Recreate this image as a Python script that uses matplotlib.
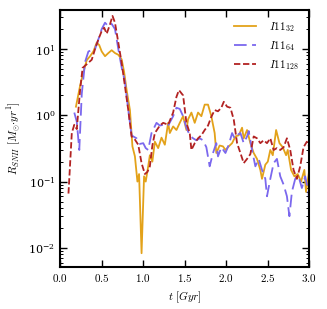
import numpy as np
import matplotlib
matplotlib.use('Agg')
import matplotlib.pyplot as plt
from matplotlib.ticker import FuncFormatter, LogLocator

plt.rcParams['mathtext.fontset'] = 'cm'
plt.rcParams['font.family'] = 'serif'
plt.rcParams['font.serif'] = ['DejaVu Serif']

# I11_32 (solid)
t32 = [0.19, 0.24, 0.28, 0.32, 0.36, 0.40, 0.44, 0.47, 0.50, 0.54, 0.58, 0.62, 0.66, 0.70,
       0.74, 0.77, 0.80, 0.84, 0.87, 0.90, 0.93, 0.95, 0.98, 1.01, 1.03, 1.06, 1.08, 1.11,
       1.14, 1.18, 1.22, 1.26, 1.30, 1.32, 1.36, 1.40, 1.44, 1.48, 1.52, 1.54, 1.58, 1.62,
       1.66, 1.70, 1.74, 1.78, 1.82, 1.86, 1.88, 1.92, 1.96, 1.99, 2.03, 2.07, 2.11, 2.15,
       2.19, 2.21, 2.25, 2.29, 2.33, 2.37, 2.41, 2.43, 2.47, 2.50, 2.53, 2.56, 2.60, 2.64,
       2.68, 2.72, 2.74, 2.78, 2.82, 2.86, 2.90, 2.94, 2.96, 3.00]
r32 = [1.35, 2.8, 4.5, 6.8, 7.8, 9.2, 12.5, 11.5, 9.2, 7.8, 8.7, 9.6, 8.7, 8.2,
       7.0, 4.5, 2.4, 1.2, 0.34, 0.24, 0.10, 0.13, 0.0083, 0.12, 0.10, 0.17, 0.25, 0.20,
       0.40, 0.32, 0.46, 0.36, 0.77, 0.54, 0.68, 0.60, 0.77, 0.97, 0.60, 0.87, 1.1, 0.77,
       1.1, 0.97, 1.45, 1.45, 0.97, 0.54, 0.27, 0.35, 0.34, 0.30, 0.34, 0.38, 0.48, 0.50,
       0.65, 0.45, 0.60, 0.38, 0.27, 0.22, 0.15, 0.11, 0.18, 0.20, 0.30, 0.25, 0.60, 0.38,
       0.33, 0.25, 0.30, 0.15, 0.12, 0.13, 0.10, 0.15, 0.07, 0.15]

# I11_64 (long dash)
t64 = [0.17, 0.20, 0.23, 0.26, 0.30, 0.34, 0.38, 0.42, 0.46, 0.50, 0.54, 0.58, 0.62, 0.66,
       0.70, 0.74, 0.78, 0.82, 0.86, 0.88, 0.92, 0.96, 1.00, 1.03, 1.06, 1.10, 1.16, 1.20,
       1.24, 1.30, 1.36, 1.40, 1.44, 1.48, 1.52, 1.56, 1.60, 1.64, 1.68, 1.72, 1.76, 1.80,
       1.84, 1.88, 1.90, 1.94, 1.99, 2.03, 2.07, 2.10, 2.13, 2.17, 2.21, 2.25, 2.27, 2.31,
       2.35, 2.39, 2.43, 2.47, 2.49, 2.53, 2.57, 2.61, 2.65, 2.69, 2.73, 2.76, 2.79, 2.83,
       2.87, 2.91, 2.95, 2.99, 3.00]
r64 = [1.1, 0.8, 0.3, 2.1, 6.4, 9.2, 9.6, 10.0, 14.0, 20.0, 25.0, 22.0, 24.0, 20.0,
       10.0, 5.3, 3.2, 1.2, 0.50, 0.48, 0.45, 0.37, 0.38, 0.32, 0.30, 0.54, 0.77, 0.70,
       0.72, 0.70, 0.97, 1.3, 1.25, 0.97, 0.65, 0.50, 0.45, 0.42, 0.45, 0.42, 0.33, 0.17,
       0.27, 0.38, 0.24, 0.33, 0.27, 0.36, 0.54, 0.45, 0.50, 0.54, 0.38, 0.48, 0.58, 0.30,
       0.17, 0.22, 0.15, 0.11, 0.06, 0.11, 0.19, 0.22, 0.12, 0.09, 0.06, 0.03, 0.07, 0.11,
       0.12, 0.08, 0.12, 0.07, 0.04]

# I11_128 (dashed)
t128 = [0.10, 0.14, 0.17, 0.20, 0.24, 0.27, 0.32, 0.38, 0.42, 0.46, 0.50, 0.53, 0.56, 0.60,
        0.63, 0.66, 0.70, 0.74, 0.78, 0.82, 0.86, 0.90, 0.94, 0.98, 1.02, 1.05, 1.08, 1.11,
        1.14, 1.20, 1.24, 1.30, 1.36, 1.40, 1.43, 1.48, 1.52, 1.56, 1.58, 1.62, 1.66, 1.70,
        1.74, 1.78, 1.82, 1.86, 1.90, 1.94, 1.97, 2.01, 2.05, 2.09, 2.13, 2.17, 2.21, 2.25,
        2.29, 2.33, 2.37, 2.41, 2.45, 2.49, 2.53, 2.57, 2.61, 2.65, 2.69, 2.73, 2.77, 2.81,
        2.85, 2.89, 2.93, 2.97, 3.00]
r128 = [0.066, 0.54, 0.72, 0.62, 2.4, 5.2, 5.9, 6.9, 10.0, 14.0, 18.7, 21.0, 17.0, 23.6,
        31.6, 25.0, 12.5, 6.2, 2.75, 1.2, 0.48, 0.43, 0.36, 0.19, 0.13, 0.14, 0.17, 0.35,
        0.54, 0.70, 0.77, 0.72, 1.1, 1.9, 2.4, 2.0, 0.77, 0.54, 0.30, 0.38, 0.45, 0.50,
        0.60, 0.70, 0.95, 1.2, 1.15, 1.3, 1.6, 1.35, 1.3, 0.86, 0.38, 0.27, 0.19, 0.22,
        0.26, 0.48, 0.45, 0.38, 0.42, 0.38, 0.45, 0.30, 0.32, 0.30, 0.33, 0.45, 0.30, 0.15,
        0.11, 0.17, 0.33, 0.40, 0.33]

fig = plt.figure(figsize=(3.27, 3.09), dpi=100)
ax = fig.add_axes([0.184, 0.137, 0.762, 0.831])

ax.plot(t32, r32, color='#e3a21a', lw=1.3, ls='-', label=r'$I11_{32}$')
ax.plot(t64, r64, color='#7b68ee', lw=1.3, dashes=(7, 3), label=r'$I11_{64}$')
ax.plot(t128, r128, color='#b22222', lw=1.3, dashes=(3.5, 1.5), label=r'$I11_{128}$')

ax.set_yscale('log')
ax.set_xlim(0, 3.0)
ax.set_ylim(0.0052, 39)
ax.set_xticks([0, 0.5, 1.0, 1.5, 2.0, 2.5, 3.0])
ax.xaxis.set_major_formatter(FuncFormatter(lambda v, p: r'$%.1f$' % v))
ax.yaxis.set_major_locator(LogLocator(base=10))
ax.yaxis.set_minor_locator(LogLocator(base=10, subs=np.arange(2, 10)))

ax.tick_params(which='both', direction='in', top=True, right=True, labelsize=8)
ax.tick_params(which='major', length=5, width=1)
ax.tick_params(which='minor', length=2.5, width=0.7)
ax.tick_params(axis='x', which='minor', bottom=False, top=False)
for s in ax.spines.values():
    s.set_linewidth(1.5)

ax.set_xlabel(r'$t\ [Gyr]$', fontsize=8)
ax.set_ylabel(r'$R_{SNII}\ [M_{\odot}{\cdot}yr^{1}]$', fontsize=8)

ax.legend(loc='upper right', frameon=False, fontsize=8, handlelength=2.0,
          handletextpad=1.2, labelspacing=0.45)

fig.savefig('out.png', dpi=100)
